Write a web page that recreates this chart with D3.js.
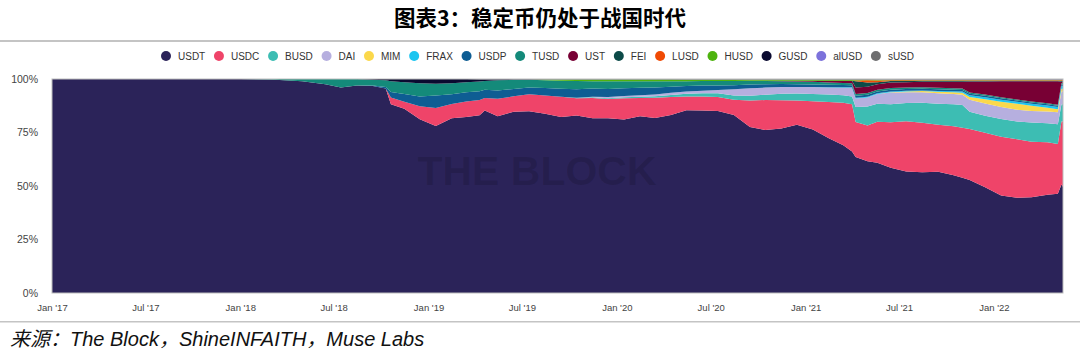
<!DOCTYPE html>
<html lang="zh">
<head>
  <meta charset="UTF-8">
  <title>稳定币仍处于战国时代</title>
  <script type="text/javascript" src="https://cdn.jsdelivr.net/npm/d3@7/dist/d3.min.js"></script>
  <style type="text/css">
  body {
    margin: 0;
    padding: 0;
    background: #fff;
  }
  svg {
    display: block;
  }
  .title {
    font-family: "Noto Sans CJK SC", sans-serif;
    font-weight: 700;
    font-size: 21.5px;
    fill: #000;
  }
  .legend text {
    font-family: "Liberation Sans", Arial, sans-serif;
    font-size: 10px;
    fill: #333;
  }
  .axis text {
    fill: #444;
  }
  .yAxis text {
    font-family: "Liberation Sans", Arial, sans-serif;
    font-size: 10.5px;
  }
  .xAxis text {
    font-family: "Liberation Sans", Arial, sans-serif;
    font-size: 9.5px;
  }
  .source {
    font-family: "Liberation Sans", "Noto Sans CJK SC", sans-serif;
    font-style: italic;
    font-size: 20px;
    fill: #111;
  }
  </style>
</head>
<body>
  <div id="chart"></div>
<script type="text/javascript">
  var width = 1080, height = 353;
  var plot = {left: 52, right: 1063, top: 79, bottom: 293};

  // data (share of total stablecoin supply, %)
  var dates = ['2017-01-01','2017-07-01','2018-01-01','2018-03-01','2018-05-01','2018-06-15','2018-07-15','2018-08-15','2018-09-15','2018-10-10',
    '2018-10-20','2018-11-15','2018-12-15','2019-01-15','2019-02-15','2019-03-15','2019-04-10','2019-04-20','2019-05-15','2019-06-15',
    '2019-07-15','2019-08-15','2019-09-15','2019-10-15','2019-11-15','2019-12-15','2020-01-15','2020-02-15','2020-03-15','2020-04-15',
    '2020-05-15','2020-06-15','2020-07-15','2020-08-15','2020-09-15','2020-10-15','2020-11-15','2020-12-15','2021-01-15','2021-02-15',
    '2021-03-15','2021-04-01','2021-04-08','2021-05-01','2021-05-20','2021-06-15','2021-07-15','2021-08-15','2021-09-15','2021-10-15',
    '2021-11-01','2021-11-15','2021-12-15','2022-01-15','2022-02-15','2022-03-15','2022-04-15','2022-05-05','2022-05-12','2022-05-15'];

  var usdt = [100,100,100,99.8,99,97.5,96,97,97,96, 87,85.5,80,77.6,80.4,80.8,81.3,83.6,80.8,83.6,
    84.6,83.2,81.8,82.2,81.3,81.3,80.8,82.2,81.3,83.6, 86,86,85.5,83.6,77,76,77,77.6,75.2,71.5,
    68.3,65.9,63.6,62.1,60.7,58.9,56.5,56,56.5,55.1, 54,51.9,49,45.8,44.9,45.3,46.3,46.7,50.5,49.5];
  var usdc = [0,0,0,0,0,0,0,0,0,0, 3.2,3.3,6,8.4,6.5,7.1,7,5.7,8,7.1,
    7.9,8.4,9.3,8,9.4,8.9,9.9,8.5,9.4,8.4, 6.5,6.5,6.6,7.1,12.3,14,13.2,11.2,13.1,16.8,
    19.6,22,16.3,16.9,19.2,21.5,23.4,23,22,22.9, 23.5,23.3,25.3,27.6,27.5,26.2,24.7,23.4,29.4,30.4];
  var busd = [0,0,0,0,0,0,0,0,0,0, 0,0,0,0,0,0,0,0,0,0,
    0,0,0,0.2,0.3,0.4,0.5,0.6,0.7,1.0, 1.3,1.6,1.8,2.0,2.2,2.5,3.0,3.2,3.3,3.4,
    3.5,3.7,7.0,8.9,8.4,8.4,8.4,9.3,9.8,10.3, 10.6,8.0,7.9,8.4,8.4,9.1,8.9,9.3,8.0,8.0];
  var dai = [0,0,0,0,0,0,0,0,0,0, 0,0,0,0,0,0,0,0,0,0,
    0,0,0,0,0.3,0.5,0.6,0.7,0.8,1.0, 1.0,1.2,1.5,3.0,3.5,3.3,3.2,3.0,3.2,3.3,
    3.5,4.0,4.0,4.3,4.5,5.5,5.0,4.8,4.8,4.8, 4.8,5.5,5.6,5.6,5.5,5.5,5.6,5.6,6.0,6.0];
  var mim = [0,0,0,0,0,0,0,0,0,0, 0,0,0,0,0,0,0,0,0,0,
    0,0,0,0,0,0,0,0,0,0, 0,0,0,0,0,0,0,0,0,0,
    0,0,0,0,0,0.2,0.4,0.6,0.7,0.8, 0.9,1.2,2.0,2.5,2.8,2.4,1.8,1.5,1.2,1.2];
  var frax = [0,0,0,0,0,0,0,0,0,0, 0,0,0,0,0,0,0,0,0,0,
    0,0,0,0,0,0,0,0,0,0, 0,0,0,0,0,0,0,0,0,0.1,
    0.2,0.2,0.3,0.3,0.3,0.3,0.3,0.3,0.4,0.5, 0.6,0.8,0.9,1.0,1.0,1.0,1.0,1.0,1.3,1.3];
  var usdp = [0,0,0,0,0,0,0,0,0.2,0.6, 2.5,3.5,4.5,5.8,4.5,4.2,4.0,3.8,3.8,3.4,
    3.2,3.5,3.8,4.0,3.8,3.8,3.6,3.4,3.2,2.9, 2.6,2.4,2.2,1.9,1.8,1.6,1.4,1.3,1.2,1.1,
    1.0,1.0,1.0,1.0,0.9,0.9,0.8,0.8,0.8,0.7, 0.7,0.7,0.7,0.6,0.6,0.6,0.6,0.6,0.8,0.8];
  var tusd = [0,0,0,0.2,1.0,2.5,4.0,3.0,2.8,3.2, 5.0,5.5,6.0,5.5,5.0,4.6,4.5,4.0,4.6,4.2,
    3.5,3.6,3.7,3.8,3.4,3.6,3.2,3.0,3.0,2.6, 2.3,2.1,2.1,2.0,1.6,1.5,1.3,1.3,1.2,1.1,
    1.0,0.9,0.8,0.8,0.8,0.8,0.7,0.7,0.7,0.7, 0.7,0.6,0.6,0.5,0.5,0.5,0.5,0.5,0.6,0.6];
  var ust = [0,0,0,0,0,0,0,0,0,0, 0,0,0,0,0,0,0,0,0,0,
    0,0,0,0,0,0,0,0,0,0, 0,0,0,0,0.1,0.1,0.2,0.3,0.5,0.8,
    1.0,1.2,3.0,3.0,2.5,2.5,2.5,2.5,2.8,3.0, 3.2,5.0,6.0,7.5,8.5,9.5,10.3,11.0,0.6,0.5];
  var fei = [0,0,0,0,0,0,0,0,0,0, 0,0,0,0,0,0,0,0,0,0,
    0,0,0,0,0,0,0,0,0,0, 0,0,0,0,0,0,0,0,0,0,
    0,0,3.0,2.0,1.0,0.8,0.6,0.5,0.5,0.5, 0.5,0.4,0.4,0.3,0.3,0.3,0.3,0.3,0.4,0.4];
  var lusd = [0,0,0,0,0,0,0,0,0,0, 0,0,0,0,0,0,0,0,0,0,
    0,0,0,0,0,0,0,0,0,0, 0,0,0,0,0,0,0,0,0,0,
    0,0,0.3,1.0,0.8,0.3,0.3,0.2,0.2,0.2, 0.2,0.2,0.2,0.2,0.2,0.2,0.2,0.2,0.3,0.3];
  var husd = [0,0,0,0,0,0,0,0,0,0, 0,0,0,0,0,0,0,0,0,0,
    0.1,0.4,0.6,0.7,0.8,0.8,0.9,0.9,0.8,0.8, 0.7,0.7,0.6,0.6,0.5,0.5,0.5,0.5,0.5,0.5,
    0.5,0.5,0.4,0.3,0.3,0.2,0.1,0.1,0.1,0.1, 0.1,0.1,0.1,0.1,0.1,0.1,0.1,0.1,0.1,0.1];
  var gusd = [0,0,0,0,0,0,0,0,0.3,0.6, 1.0,1.5,2.0,2.2,2.0,1.5,1.0,0.8,0.5,0.3,
    0.2,0.1,0.1,0.1,0.1,0.1,0.1,0.1,0.1,0.1, 0.1,0.1,0.1,0.1,0.1,0.1,0.1,0.1,0.1,0.1,
    0.1,0.1,0.1,0.1,0.1,0.1,0.1,0.1,0.1,0.1, 0.1,0.1,0.1,0.1,0.1,0.1,0.1,0.1,0.1,0.1];
  var alusd = [0,0,0,0,0,0,0,0,0,0, 0,0,0,0,0,0,0,0,0,0,
    0,0,0,0,0,0,0,0,0,0, 0,0,0,0,0,0,0,0,0,0,
    0,0,0,0,0.1,0.1,0.2,0.2,0.2,0.2, 0.2,0.2,0.2,0.2,0.2,0.2,0.2,0.2,0.2,0.2];
  var susd = [0,0,0,0,0,0,0,0,0,0, 0,0,0,0,0,0,0.1,0.1,0.1,0.1,
    0.1,0.1,0.1,0.1,0.1,0.1,0.1,0.1,0.1,0.1, 0.2,0.2,0.2,0.2,0.2,0.2,0.2,0.2,0.2,0.2,
    0.2,0.2,0.2,0.2,0.2,0.2,0.2,0.2,0.2,0.2, 0.2,0.2,0.2,0.2,0.2,0.2,0.2,0.2,0.2,0.2];

  var keys = ['USDT','USDC','BUSD','DAI','MIM','FRAX','USDP','TUSD','UST','FEI','LUSD','HUSD','GUSD','alUSD','sUSD'];
  var series = [usdt, usdc, busd, dai, mim, frax, usdp, tusd, ust, fei, lusd, husd, gusd, alusd, susd];
  var colors = ['#2b2359','#ef4469','#3dbdb3','#b6afdf','#fbd84b','#1bc5f0','#0e5d93','#148a7a',
    '#780034','#0c4a48','#f04a04','#4db30e','#0a0a30','#7c72db','#6e6e70'];
  var yTicks = [0, 0.25, 0.5, 0.75, 1];
  var xTicks = ['2017-01-01','2017-07-01','2018-01-01','2018-07-01','2019-01-01','2019-07-01',
    '2020-01-01','2020-07-01','2021-01-01','2021-07-01','2022-01-01'];

  var parse = d3.timeParse('%Y-%m-%d');
  var rows = dates.map(function(d, i){
    var row = {date: parse(d)};
    keys.forEach(function(k, j){ row[k] = series[j][i]; });
    return row;
  });

  var svg = d3.select('#chart')
    .append('svg')
    .attr('width', width)
    .attr('height', height);

  // title + rules
  svg.append('text')
    .attr('class', 'title')
    .attr('x', 540)
    .attr('y', 25.5)
    .attr('text-anchor', 'middle')
    .text('图表3：稳定币仍处于战国时代');

  svg.append('rect').attr('x', 0).attr('y', 40).attr('width', width).attr('height', 2).attr('fill', '#c4c4c4');
  svg.append('rect').attr('x', 0).attr('y', 321).attr('width', width).attr('height', 1.5).attr('fill', '#c4c4c4');

  // scales
  var xScale = d3.scaleTime()
    .domain([parse(dates[0]), parse(dates[dates.length - 1])])
    .range([plot.left, plot.right]);
  var yScale = d3.scaleLinear()
    .domain([0, 1])
    .range([plot.bottom, plot.top]);
  var cScale = d3.scaleOrdinal().domain(keys).range(colors);

  var stack = d3.stack()
    .keys(keys)
    .order(d3.stackOrderNone)
    .offset(d3.stackOffsetExpand);
  var layers = stack(rows);

  var area = d3.area()
    .x(function(d){ return xScale(d.data.date); })
    .y0(function(d){ return yScale(d[0]); })
    .y1(function(d){ return yScale(d[1]); });

  svg.append('g')
    .selectAll('path')
    .data(layers)
    .enter()
    .append('path')
    .attr('fill', function(d){ return cScale(d.key); })
    .attr('d', area);

  // watermark
  svg.append('text')
    .attr('x', 537)
    .attr('y', 185)
    .attr('text-anchor', 'middle')
    .style('font-family', '"Liberation Sans", Arial, sans-serif')
    .style('font-weight', 700)
    .style('font-size', '41px')
    .attr('fill', '#000')
    .attr('fill-opacity', 0.13)
    .text('THE BLOCK');

  // frame
  svg.append('rect')
    .attr('x', plot.left)
    .attr('y', plot.top)
    .attr('width', plot.right - plot.left)
    .attr('height', plot.bottom - plot.top)
    .attr('fill', 'none')
    .attr('stroke', '#bdbdbd')
    .attr('stroke-width', 1);

  // axes
  var yAxis = d3.axisLeft(yScale)
    .tickValues(yTicks)
    .tickSize(0)
    .tickPadding(14)
    .tickFormat(d3.format('.0%'));
  svg.append('g')
    .attr('class', 'axis yAxis')
    .attr('transform', 'translate(' + plot.left + ',0)')
    .call(yAxis)
    .call(function(g){ g.select('.domain').remove(); });

  var fmt = d3.timeFormat("%b '%y");
  var xAxis = d3.axisBottom(xScale)
    .tickValues(xTicks.map(parse))
    .tickSize(0)
    .tickPadding(11)
    .tickFormat(fmt);
  svg.append('g')
    .attr('class', 'axis xAxis')
    .attr('transform', 'translate(0,' + plot.bottom + ')')
    .call(xAxis)
    .call(function(g){ g.select('.domain').remove(); });

  // legend: spread the items between the dot of USDT and the end of sUSD
  var legend = svg.append('g').attr('class', 'legend');
  var items = keys.map(function(k){
    var g = legend.append('g');
    g.append('circle').attr('cx', 5).attr('cy', 0).attr('r', 5).attr('fill', cScale(k));
    var t = g.append('text').attr('x', 17).attr('y', 3.5).text(k);
    return {g: g, w: 17 + t.node().getComputedTextLength()};
  });
  var legendStart = 161, legendEnd = 914;
  var used = d3.sum(items, function(d){ return d.w; });
  var gap = (legendEnd - legendStart - used) / (items.length - 1);
  var lx = legendStart;
  items.forEach(function(d){
    d.g.attr('transform', 'translate(' + lx + ',56)');
    lx += d.w + gap;
  });

  // source
  svg.append('text')
    .attr('class', 'source')
    .attr('x', 10)
    .attr('y', 346)
    .text('来源：The Block，ShineINFAITH，Muse Labs');
</script>
</body>
</html>
